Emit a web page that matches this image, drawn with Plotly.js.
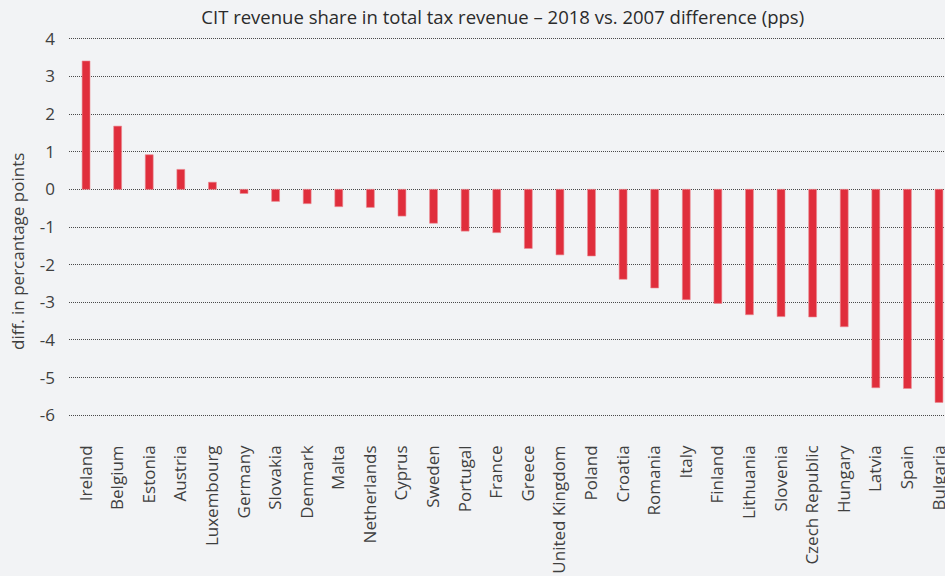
<!DOCTYPE html>
<html>
<head>
<meta charset="utf-8">
<script src="https://cdn.plot.ly/plotly-3.0.1.min.js"></script>
<style>html,body{margin:0;padding:0;background:#f2f3f5;}#chart{width:945px;height:576px;}</style>
</head>
<body>
<div id="chart"></div>
<script>
const countries = ["Ireland","Belgium","Estonia","Austria","Luxembourg","Germany","Slovakia","Denmark","Malta","Netherlands","Cyprus","Sweden","Portugal","France","Greece","United Kingdom","Poland","Croatia","Romania","Italy","Finland","Lithuania","Slovenia","Czech Republic","Hungary","Latvia","Spain","Bulgaria"];
const diffPps = [3.41,1.68,0.92,0.53,0.19,-0.11,-0.32,-0.38,-0.46,-0.48,-0.71,-0.90,-1.11,-1.15,-1.57,-1.74,-1.77,-2.39,-2.62,-2.93,-3.03,-3.33,-3.38,-3.39,-3.65,-5.27,-5.29,-5.66];
const yTicks = [4,3,2,1,0,-1,-2,-3,-4,-5,-6];

const font = "'Open Sans', 'DejaVu Sans', sans-serif";
const trace = {
  type: 'bar',
  x: countries,
  y: diffPps,
  marker: {color: '#e02e3c', line: {color: '#eb8a92', width: 0.6}},
  width: 0.25,
  hoverinfo: 'x+y'
};
const layout = {
  width: 945, height: 576,
  paper_bgcolor: '#f2f3f5', plot_bgcolor: '#f2f3f5',
  margin: {l: 69, r: 0, t: 35, b: 157},
  showlegend: false,
  title: {text: 'CIT revenue share in total tax revenue – 2018 vs. 2007 difference (pps)', font: {family: font, size: 18.5, color: '#2b2b2b'}, x: 0.532, xanchor: 'center', y: 0.97, yanchor: 'middle'},
  xaxis: {
    type: 'category', range: [-0.54, 27.19], showgrid: false, zeroline: false, showline: false,
    ticks: '', tickangle: -90, tickfont: {family: font, size: 17, color: '#3f3f3f'}, ticklabelstandoff: 22, fixedrange: true
  },
  yaxis: {
    range: [-6.1, 4.1], tickvals: yTicks, ticktext: yTicks.map(String), showgrid: true, gridcolor: '#4a4a4a', griddash: '1px,1px', gridwidth: 1,
    zeroline: false, showline: false, ticks: '', tickfont: {family: font, size: 17, color: '#3f3f3f'}, ticklabelstandoff: 13, fixedrange: true
  },
  annotations: [{
    text: 'diff. in percantage points', textangle: -90, xref: 'paper', yref: 'paper', x: 0, xshift: -51, y: 0.435, xanchor: 'center', yanchor: 'middle', showarrow: false,
    font: {family: font, size: 17, color: '#3f3f3f'}
  }]
};
Plotly.newPlot('chart', [trace], layout, {displayModeBar: false, staticPlot: true});
</script>
</body>
</html>
